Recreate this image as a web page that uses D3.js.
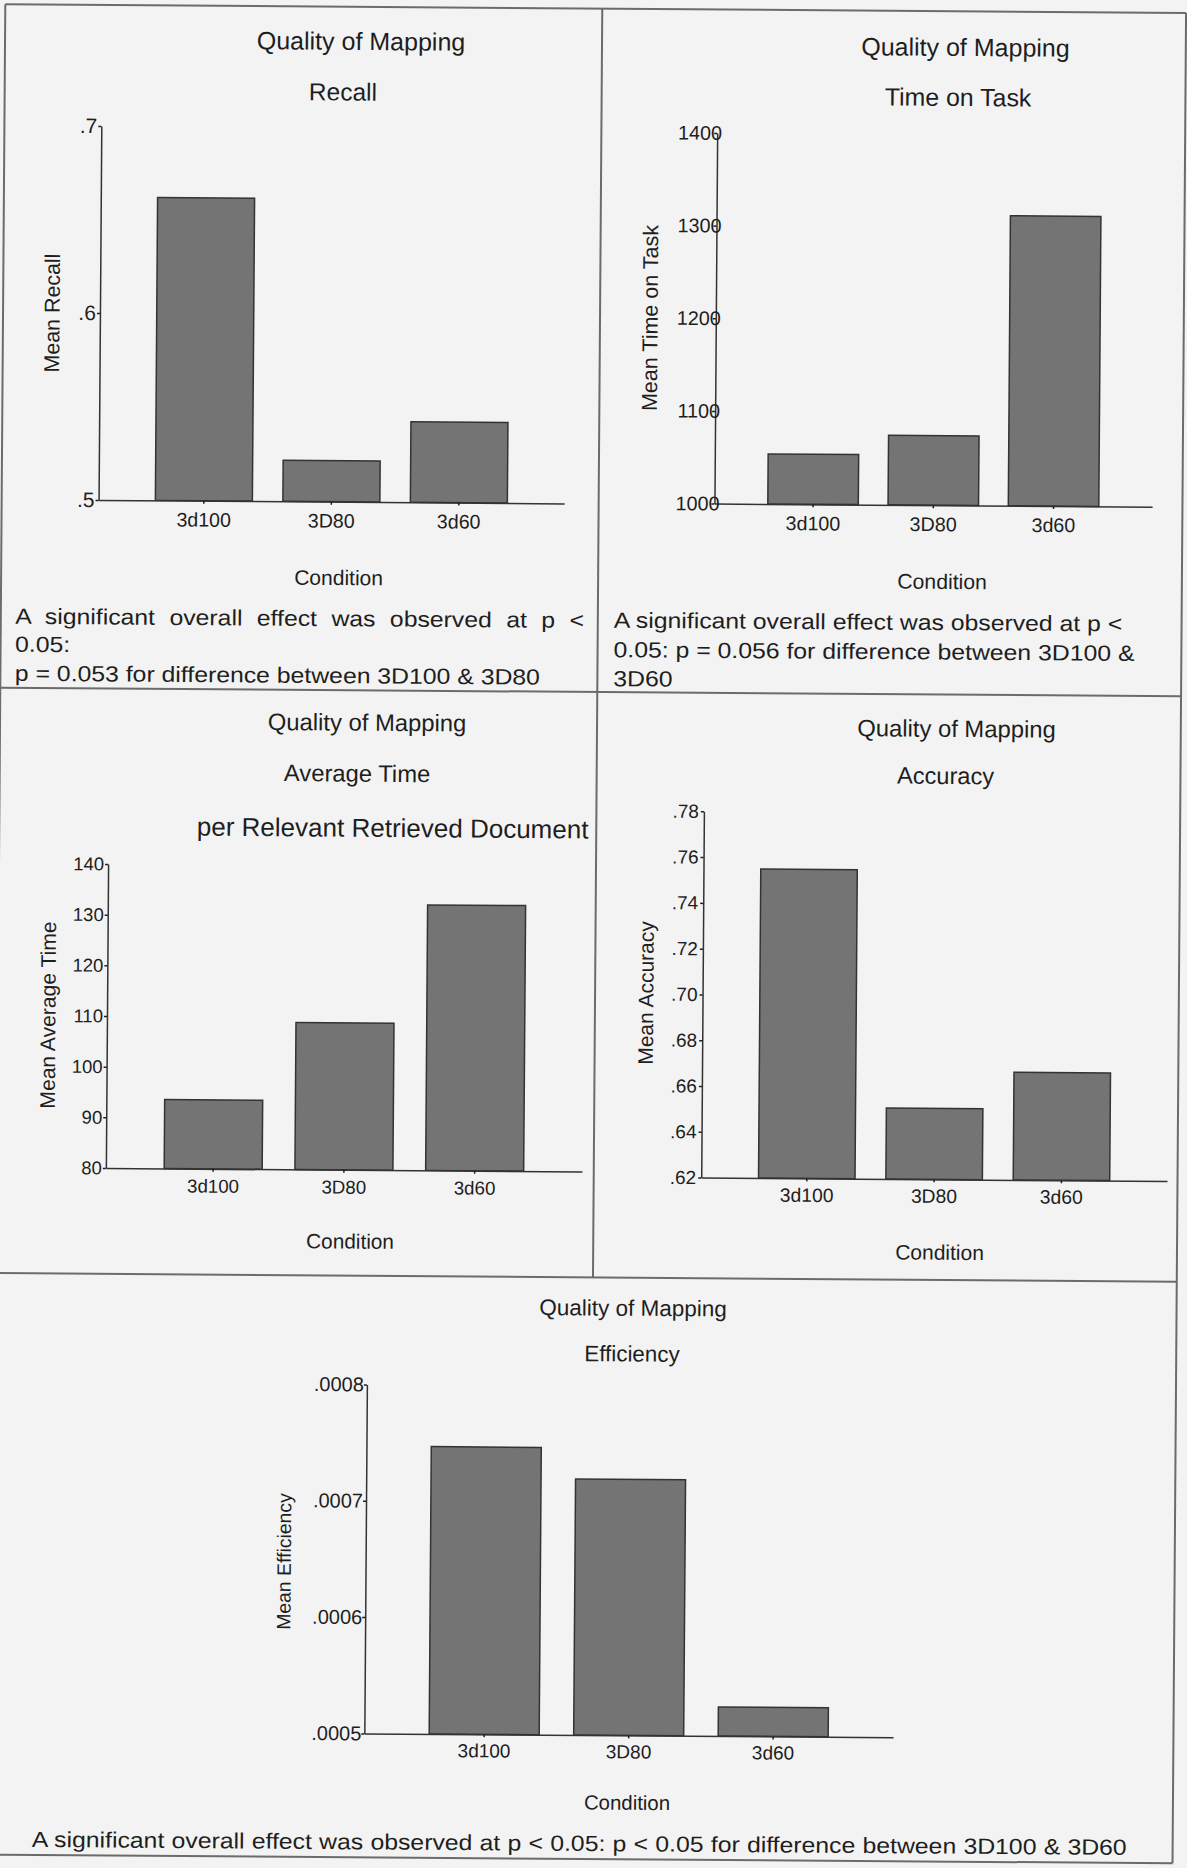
<!DOCTYPE html>
<html>
<head>
<meta charset="utf-8">
<script src="https://cdn.jsdelivr.net/npm/d3@7"></script>
<style>
  html, body { margin: 0; padding: 0; background: #f3f3f3; }
  svg { display: block; font-family: "Liberation Sans", Arial, sans-serif; }
</style>
</head>
<body>
<script>
// conditions (x categories), same in every chart
const conditions = ["3d100", "3D80", "3d60"];

// means
const recall = [0.662, 0.522, 0.543];
const timeOnTask = [1054, 1075, 1313];
const avgTime = [93.6, 109.0, 132.4];
const accuracy = [0.755, 0.651, 0.667];
const efficiency = [0.000747, 0.000720, 0.000525];

// y tick values
const recallTicks = [0.5, 0.6, 0.7];
const timeTicks = [1000, 1100, 1200, 1300, 1400];
const avgTimeTicks = [80, 90, 100, 110, 120, 130, 140];
const accuracyTicks = [0.62, 0.64, 0.66, 0.68, 0.70, 0.72, 0.74, 0.76, 0.78];
const efficiencyTicks = [0.0005, 0.0006, 0.0007, 0.0008];

// caption texts
const caption1 = ["A significant overall effect was observed at p <", "0.05:", "p = 0.053 for difference between 3D100 & 3D80"];
const caption2 = ["A significant overall effect was observed at p <", "0.05: p = 0.056 for difference between 3D100 &", "3D60"];
const caption5 = ["A significant overall effect was observed at p < 0.05: p < 0.05 for difference between 3D100 & 3D60"];

const W = 1187, H = 1868;
const textColor = "#1e1e1e";
const noLead = f => v => d3.format(f)(v).replace(/^0\./, ".");

const svg = d3.select("body").append("svg")
    .attr("width", W)
    .attr("height", H);

// the page was scanned a little crooked
const page = svg.append("g").attr("transform", "rotate(0.42, 593.5, 934)");

// table grid
const lineCol = "#6b6b6b";
const grid = [
    [-1.5, 8.6, 1179.3, 8.6],
    [-1.5, 8.6, -1.5, 1859],
    [1179.3, 8.6, 1179.3, 1859],
    [-1.5, 1859, 1179.3, 1859],
    [-1.5, 692, 1179.3, 692],
    [-1.5, 1277.4, 1179.3, 1277.4],
    [595.5, 8.6, 595.5, 1277.4]
];
page.selectAll("line.grid")
    .data(grid)
    .enter()
    .append("line")
    .attr("class", "grid")
    .attr("x1", d => d[0]).attr("y1", d => d[1])
    .attr("x2", d => d[2]).attr("y2", d => d[3])
    .attr("stroke", lineCol)
    .attr("stroke-width", 2);

function drawChart(c) {
    const g = page.append("g");
    const y = d3.scaleLinear()
        .domain([c.ticks[0], c.ticks[c.ticks.length - 1]])
        .range([c.y0, c.y1]);
    const pi = 1 - c.bw / c.step;
    const po = ((c.x1 - c.x0) / c.step - conditions.length + pi) / 2;
    const x = d3.scaleBand()
        .domain(conditions)
        .range([c.x0, c.x1])
        .paddingInner(pi)
        .paddingOuter(po);

    g.selectAll("rect")
        .data(c.values)
        .enter()
        .append("rect")
        .attr("x", (d, i) => x(conditions[i]))
        .attr("y", d => y(d))
        .attr("width", x.bandwidth())
        .attr("height", d => c.y0 - y(d))
        .attr("fill", "#747474")
        .attr("stroke", "#333")
        .attr("stroke-width", 1.5);

    const xAxis = g.append("g")
        .attr("transform", "translate(0," + c.y0 + ")")
        .call(d3.axisBottom(x).tickSize(3).tickSizeOuter(0).tickPadding(c.xTickPad));
    const yAxis = g.append("g")
        .attr("transform", "translate(" + c.x0 + ",0)")
        .call(d3.axisLeft(y).tickValues(c.ticks).tickFormat(c.fmt)
            .tickSize(3).tickSizeOuter(0).tickPadding(c.yTickPad));
    [[xAxis, c.xTickSize], [yAxis, c.yTickSize]].forEach(([a, s]) => {
        a.attr("font-family", null).attr("font-size", s).style("color", textColor);
        a.select(".domain").attr("stroke-width", 1.5).attr("stroke", "#333");
        a.selectAll(".tick line").attr("stroke-width", 1.5);
    });

    c.titles.forEach(t => {
        g.append("text")
            .attr("x", t[1]).attr("y", t[2])
            .attr("text-anchor", "middle")
            .attr("font-size", t[3])
            .attr("fill", textColor)
            .text(t[0]);
    });
    g.append("text")
        .attr("transform", "translate(" + c.ylabel[1] + "," + c.ylabel[2] + ") rotate(-90)")
        .attr("dy", "0.35em")
        .attr("text-anchor", "middle")
        .attr("font-size", c.ylabel[3])
        .attr("fill", textColor)
        .text(c.ylabel[0]);
    g.append("text")
        .attr("x", c.xlabel[1]).attr("y", c.xlabel[2])
        .attr("text-anchor", "middle")
        .attr("font-size", c.xlabel[3])
        .attr("fill", textColor)
        .text(c.xlabel[0]);
}

// captions are set a bit wider than the chart text
const capScale = 1.127;
function drawCaption(lines, x, ys, justifyWidth) {
    lines.forEach((line, i) => {
        const t = page.append("text")
            .attr("transform", "translate(" + x + "," + ys[i] + ") scale(" + capScale + ",1)")
            .attr("font-size", 22)
            .attr("fill", textColor)
            .text(line);
        if (i === 0 && justifyWidth) {
            const natural = t.node().getComputedTextLength();
            const spaces = line.split(" ").length - 1;
            t.attr("word-spacing", (justifyWidth / capScale - natural) / spaces);
        }
    });
}

drawChart({
    values: recall, ticks: recallTicks, fmt: noLead(".1f"),
    x0: 95.4, x1: 561, y0: 503.6, y1: 129.6, step: 127.5, bw: 97,
    yTickSize: 21, yTickPad: 1, xTickSize: 19.6, xTickPad: 9,
    titles: [["Quality of Mapping", 354.5, 51.7, 25], ["Recall", 336.8, 102.3, 24.5]],
    ylabel: ["Mean Recall", 47.5, 317, 21.4],
    xlabel: ["Condition", 336, 586.9, 21]
});
drawChart({
    values: timeOnTask, ticks: timeTicks, fmt: d3.format("d"),
    x0: 711.3, x1: 1149, y0: 502.7, y1: 132.1, step: 120.25, bw: 90.5,
    yTickSize: 19.8, yTickPad: -8, xTickSize: 19.7, xTickPad: 9,
    titles: [["Quality of Mapping", 959, 53.3, 25], ["Time on Task", 951.9, 103.3, 24.9]],
    ylabel: ["Mean Time on Task", 645.5, 317.6, 21.5],
    xlabel: ["Condition", 939.5, 586.4, 21.2]
});
drawChart({
    values: avgTime, ticks: avgTimeTicks, fmt: d3.format("d"),
    x0: 107.6, x1: 583.7, y0: 1171.6, y1: 867.6, step: 130.75, bw: 98,
    yTickSize: 18.5, yTickPad: 1, xTickSize: 18.7, xTickPad: 7.6,
    titles: [["Quality of Mapping", 365.5, 732.4, 23.8], ["Average Time", 355.9, 783.4, 23.8],
        ["per Relevant Retrieved Document", 391.9, 838.5, 26]],
    ylabel: ["Mean Average Time", 48.6, 1019, 21.1],
    xlabel: ["Condition", 352.3, 1250.4, 20.8]
});
drawChart({
    values: accuracy, ticks: accuracyTicks, fmt: noLead(".2f"),
    x0: 703, x1: 1168.8, y0: 1176.8, y1: 810.5, step: 127.35, bw: 96.5,
    yTickSize: 19, yTickPad: 2, xTickSize: 19.3, xTickPad: 6.8,
    titles: [["Quality of Mapping", 955, 734.3, 23.8], ["Accuracy", 944.4, 781.4, 23.6]],
    ylabel: ["Mean Accuracy", 646.4, 992.6, 21],
    xlabel: ["Condition", 941.9, 1257.2, 21]
});
drawChart({
    values: efficiency, ticks: efficiencyTicks, fmt: noLead(".4f"),
    x0: 370.2, x1: 898.9, y0: 1735.1, y1: 1386.1, step: 144.5, bw: 110,
    yTickSize: 20, yTickPad: 0, xTickSize: 19, xTickPad: 6.6,
    titles: [["Quality of Mapping", 635.8, 1315.5, 22.5], ["Efficiency", 635.1, 1361.2, 22.4]],
    ylabel: ["Mean Efficiency", 288.6, 1563.8, 19.4],
    xlabel: ["Condition", 633.4, 1809.5, 20.4]
});

drawCaption(caption1, 13, [628, 656, 685], 568.7);
drawCaption(caption2, 611.5, [627.5, 657, 686]);
drawCaption(caption5, 38.4, [1851], 1095);
</script>
</body>
</html>
